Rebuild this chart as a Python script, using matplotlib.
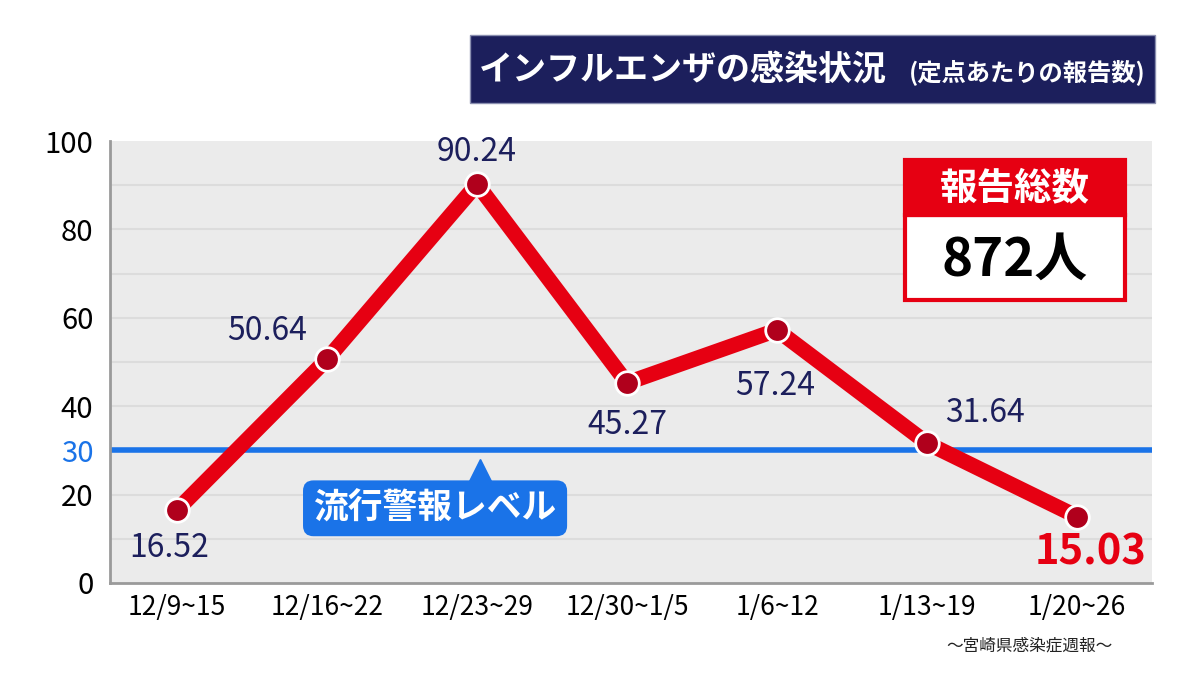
import matplotlib.pyplot as plt
from matplotlib.patches import Rectangle

plt.rcParams['font.family'] = ['Noto Sans CJK JP', 'DejaVu Sans']

# データ
weeks = ['12/9~15', '12/16~22', '12/23~29', '12/30~1/5', '1/6~12', '1/13~19', '1/20~26']
values = [16.52, 50.64, 90.24, 45.27, 57.24, 31.64, 15.03]
yticks = [0, 20, 40, 60, 80, 100]
alert_level = 30
total_reports = 872

# ラベル位置(ピクセルのずれ)
label_offsets = [(-8, -38), (-60, 28), (0, 32), (0, -42), (-2, -56), (58, 30), (14, -36)]

navy = '#1c1f5c'
red = '#e60012'
blue = '#1a73e8'

fig = plt.figure(figsize=(12, 6.75), dpi=100)
ax = fig.add_axes([0.0917, 0.1363, 0.8683, 0.6548])
ax.set_facecolor('#ebebeb')

x = list(range(len(weeks)))
ax.set_xlim(-0.447, 6.5)
ax.set_ylim(0, 100)

# 補助線
for g in range(10, 100, 10):
    ax.axhline(g, color='#dcdcdc', linewidth=1.5, zorder=0)

# 流行警報レベル
ax.axhline(alert_level, color=blue, linewidth=4, zorder=2)

ax.plot(x, values, color=red, linewidth=11, solid_joinstyle='miter', zorder=3)
ax.plot(x, values, linestyle='none', marker='o', markersize=17,
        markerfacecolor='#b0001c', markeredgecolor='white', markeredgewidth=2, zorder=4)

for i, v in enumerate(values):
    dx, dy = label_offsets[i]
    last = i == len(values) - 1
    ax.annotate(f'{v:.2f}', (x[i], v), xytext=(dx, dy), textcoords='offset pixels',
                ha='center', va='center',
                fontsize=30 if last else 23, fontweight='bold' if last else 'normal',
                color=red if last else navy, zorder=5)

# 吹き出し
ax.text(1.72, 16.9, '流行警報レベル', ha='center', va='center', fontsize=25,
        fontweight='bold', color='white', zorder=5,
        bbox=dict(boxstyle='round,pad=0.3,rounding_size=0.3', fc=blue, ec='none'))
ax.plot(2.02, 25.6, marker='^', markersize=16, color=blue, linestyle='none', zorder=4)

# 軸
for s in ['top', 'right']:
    ax.spines[s].set_visible(False)
for s in ['left', 'bottom']:
    ax.spines[s].set_color('#9a9a9a')
    ax.spines[s].set_linewidth(2)
ax.set_xticks(x)
ax.set_xticklabels(weeks, fontsize=19)
ax.set_yticks(yticks + [alert_level])
ax.set_yticklabels([str(t) for t in yticks] + [str(alert_level)], fontsize=21)
ax.get_yticklabels()[-1].set_color(blue)
ax.tick_params(length=0)
ax.tick_params(axis='y', pad=12)
ax.tick_params(axis='x', pad=8)

# タイトル
fig.patches.append(Rectangle((0.392, 0.847), 0.5705, 0.101, transform=fig.transFigure,
                             fc=navy, ec='#8a8fb0', lw=1))
fig.text(0.399, 0.897, 'インフルエンザの感染状況', fontsize=24.5, fontweight='bold',
         color='white', va='center', ha='left')
fig.text(0.955, 0.893, '(定点あたりの報告数)', fontsize=17.5, fontweight='bold',
         color='white', va='center', ha='right')

# 報告総数
fig.patches.append(Rectangle((0.754, 0.556), 0.1835, 0.125, transform=fig.transFigure,
                             fc='white', ec=red, lw=3, zorder=5))
fig.patches.append(Rectangle((0.754, 0.681), 0.1835, 0.082, transform=fig.transFigure,
                             fc=red, ec=red, lw=3, zorder=5))
fig.text(0.8458, 0.722, '報告総数', fontsize=27, fontweight='bold', color='white',
         ha='center', va='center', zorder=6)
fig.text(0.8458, 0.615, f'{total_reports}人', fontsize=38, fontweight='bold', color='black',
         ha='center', va='center', zorder=6)

fig.text(0.858, 0.043, '～宮崎県感染症週報～', fontsize=12, color='#222222',
         ha='center', va='center')

fig.savefig('out.png', dpi=100, facecolor='white')
